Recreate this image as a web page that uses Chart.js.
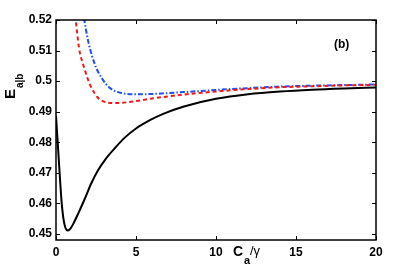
<!DOCTYPE html>
<html>
<head>
<meta charset="utf-8">
<script src="https://cdn.jsdelivr.net/npm/chart.js@4.4.0/dist/chart.umd.min.js"></script>
<style>
  html, body { margin: 0; padding: 0; background: #fff; }
  #wrap { width: 415px; height: 271px; position: relative; }
</style>
</head>
<body>
<div id="wrap"><canvas id="chart"></canvas></div>
<script>
// black solid curve
const blackX = [0, 0.08, 0.16, 0.25, 0.35, 0.45, 0.55, 0.65, 0.75, 0.9, 1.1, 1.4, 1.8, 2.2, 2.6, 3.1, 3.7, 4.3, 5.0, 5.9, 6.7, 8, 10, 12, 14, 16, 18, 20];
const blackY = [0.4887, 0.482, 0.4755, 0.468, 0.4605, 0.4555, 0.4527, 0.4514, 0.4511, 0.4517, 0.4535, 0.4568, 0.4615, 0.4665, 0.4706, 0.4745, 0.4782, 0.4815, 0.4845, 0.4873, 0.4893, 0.4917, 0.4942, 0.4957, 0.4966, 0.4972, 0.4976, 0.4979];

// red dashed curve
const redX = [1.1, 1.23, 1.44, 1.77, 2.13, 2.65, 3.0, 3.5, 4.5, 6, 8, 10, 12, 14, 16, 18, 20];
const redY = [0.526, 0.520, 0.5108, 0.5042, 0.4988, 0.4944, 0.4933, 0.4928, 0.4931, 0.4943, 0.4956, 0.4966, 0.4974, 0.4980, 0.4983, 0.4986, 0.4988];

// blue dash-dot curve
const blueX = [1.65, 1.77, 2.02, 2.44, 2.86, 3.38, 4.1, 5.1, 6, 8, 10, 12, 14, 16, 18, 20];
const blueY = [0.524, 0.520, 0.5129, 0.5053, 0.5010, 0.4977, 0.4961, 0.4957, 0.4958, 0.4964, 0.4971, 0.4977, 0.4982, 0.4985, 0.4987, 0.4989];

const xTicks = [0, 5, 10, 15, 20];
const yTicks = [0.45, 0.46, 0.47, 0.48, 0.49, 0.5, 0.51, 0.52];

const toPoints = (xs, ys) => xs.map((x, i) => ({ x: x, y: ys[i] }));
const tickFont = { family: 'Liberation Sans', size: 12, weight: 'bold' };

// box, inward tick marks and the text labels
const decorations = {
  id: 'decorations',
  afterDraw(chart) {
    const c = chart.ctx;
    const a = chart.chartArea;
    const xs = chart.scales.x, ys = chart.scales.y;
    c.save();
    c.strokeStyle = '#000';
    c.lineWidth = 1.5;
    c.strokeRect(a.left, a.top, a.right - a.left, a.bottom - a.top);
    c.lineWidth = 1;
    c.beginPath();
    xTicks.forEach(t => {
      const px = Math.round(xs.getPixelForValue(t)) + 0.5;
      c.moveTo(px, a.bottom); c.lineTo(px, a.bottom - 4);
      c.moveTo(px, a.top); c.lineTo(px, a.top + 4);
    });
    yTicks.forEach(t => {
      const py = Math.round(ys.getPixelForValue(t)) + 0.5;
      c.moveTo(a.left, py); c.lineTo(a.left + 4, py);
      c.moveTo(a.right, py); c.lineTo(a.right - 4, py);
    });
    c.stroke();

    c.fillStyle = '#000';
    c.textBaseline = 'alphabetic';
    // panel label
    c.font = 'bold 12px "Liberation Sans"';
    c.textAlign = 'left';
    c.fillText('(b)', 334, 48);

    // x axis title: C_a/γ
    c.font = 'bold 14px "Liberation Sans"';
    c.fillText('C', 233, 256);
    c.font = 'bold 11px "Liberation Sans"';
    c.fillText('a', 244, 264);
    c.font = '13px "Liberation Sans"';
    c.fillText('/\u03b3', 250, 255);

    // y axis title: E_a|b (rotated)
    c.translate(15, 99);
    c.rotate(-Math.PI / 2);
    c.font = 'bold 15px "Liberation Sans"';
    c.fillText('E', 0, 0);
    c.font = 'bold 10px "Liberation Sans"';
    c.fillText('a|b', 11, 8);
    c.restore();
  }
};

new Chart(document.getElementById('chart'), {
  type: 'line',
  data: {
    datasets: [
      { data: toPoints(blackX, blackY), borderColor: '#000', borderWidth: 2, pointRadius: 0, cubicInterpolationMode: 'monotone' },
      { data: toPoints(redX, redY), borderColor: '#f01818', borderWidth: 2, borderDash: [4, 3], pointRadius: 0, cubicInterpolationMode: 'monotone' },
      { data: toPoints(blueX, blueY), borderColor: '#2050f0', borderWidth: 2, borderDash: [5, 2, 1.5, 2], pointRadius: 0, cubicInterpolationMode: 'monotone' }
    ]
  },
  options: {
    responsive: true,
    maintainAspectRatio: false,
    animation: false,
    layout: { padding: { top: 20, right: 39, left: 0, bottom: 0 } },
    plugins: { legend: { display: false }, tooltip: { enabled: false } },
    scales: {
      x: {
        type: 'linear', min: 0, max: 20,
        grid: { display: false, drawTicks: false },
        border: { display: false },
        afterBuildTicks: s => { s.ticks = xTicks.map(v => ({ value: v })); },
        afterFit: s => { s.height = 31; },
        ticks: { font: tickFont, color: '#000', padding: 5, maxRotation: 0 }
      },
      y: {
        type: 'linear', min: 0.448, max: 0.52,
        grid: { display: false, drawTicks: false },
        border: { display: false },
        afterBuildTicks: s => { s.ticks = yTicks.map(v => ({ value: v })); },
        afterFit: s => { s.width = 56; },
        ticks: { font: tickFont, color: '#000', padding: 4, callback: v => String(+v.toFixed(2)) }
      }
    }
  },
  plugins: [decorations]
});
</script>
</body>
</html>
